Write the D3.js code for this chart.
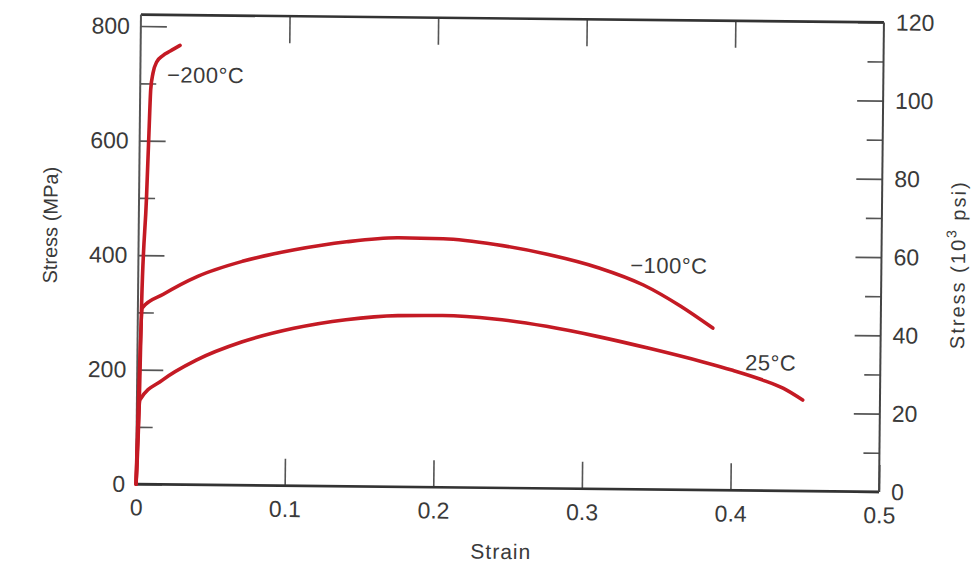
<!DOCTYPE html>
<html lang="en">

<head>
  <meta charset="UTF-8">
  <title>Stress vs Strain</title>
  <script src="https://d3js.org/d3.v7.min.js"></script>
  <style>
    body {
      margin: 0;
      background: #fff;
      font-family: "Liberation Sans", Arial, sans-serif;
    }

    .tick text {
      fill: #3a3a3a;
      font-size: 23px;
    }

    .tick line {
      stroke: #555;
      stroke-width: 1.6px;
    }

    .axis .domain {
      display: none;
    }

    .curve {
      fill: none;
      stroke: #c41a24;
      stroke-width: 3.6px;
      stroke-linecap: round;
    }

    .curve-label {
      fill: #3a3a3a;
      font-size: 22px;
      letter-spacing: 0.5px;
    }

    .axis-title {
      fill: #3a3a3a;
      font-size: 20px;
    }
  </style>
</head>

<body>
  <div id="chart"></div>

  <script>
    // strain / stress (MPa)
    const curveMinus200 = [
      [0, 0], [0.0016, 147], [0.0025, 320], [0.005, 500], [0.0062, 613],
      [0.0071, 690], [0.0085, 718], [0.011, 738], [0.015, 749], [0.02, 757], [0.0265, 767]
    ];
    const curveMinus100 = [
      [0, 0], [0.003, 308], [0.017, 332], [0.04, 364], [0.07, 391], [0.105, 412],
      [0.14, 427], [0.175, 435], [0.205, 434], [0.24, 425], [0.275, 409],
      [0.31, 386], [0.34, 357], [0.365, 321], [0.387, 283]
    ];
    const curve25 = [
      [0, 0], [0.002, 147], [0.017, 182], [0.04, 218], [0.07, 250], [0.105, 275],
      [0.14, 291], [0.175, 299], [0.205, 300], [0.24, 295], [0.275, 283],
      [0.31, 266], [0.345, 246], [0.38, 224], [0.40, 210], [0.42, 194], [0.435, 179], [0.448, 159]
    ];

    const curveLabels = ["\u2212200\u00B0C", "\u2212100\u00B0C", "25\u00B0C"];
    const labelSpots = [[0.018, 702], [0.331, 378], [0.409, 210]];

    const strainTicks = [0, 0.1, 0.2, 0.3, 0.4, 0.5];
    const mpaTicks = [0, 200, 400, 600, 800];
    const mpaMinor = [100, 300, 500, 700];
    const ksiTicks = [0, 20, 40, 60, 80, 100, 120];
    const ksiMinor = [10, 30, 50, 70, 90, 110];

    const width = 976;
    const height = 567;
    const plotLeft = 138.5, plotRight = 881.5, plotTop = 18.5, plotBottom = 488;

    const svg = d3.select("#chart")
      .append("svg")
      .attr("width", width)
      .attr("height", height);

    // the printed figure sits slightly skewed on the page
    const g = svg.append("g")
      .attr("transform", "rotate(0.6, 510, 253)");

    const x = d3.scaleLinear().domain([0, 0.5]).range([plotLeft, plotRight]);
    const yMpa = d3.scaleLinear().domain([0, 820]).range([plotBottom, plotTop]);
    const yKsi = d3.scaleLinear().domain([0, 120]).range([plotBottom, plotTop]);

    // axes with inward ticks
    g.append("g")
      .attr("class", "axis")
      .attr("transform", `translate(0, ${plotBottom})`)
      .call(d3.axisBottom(x).tickValues(strainTicks).tickSizeInner(-27).tickSizeOuter(0)
        .tickPadding(15).tickFormat(d => d === 0 ? "0" : d3.format(".1f")(d)));

    g.append("g")
      .attr("class", "axis")
      .attr("transform", `translate(0, ${plotTop})`)
      .call(d3.axisTop(x).tickValues(strainTicks.slice(1, -1)).tickSize(-27).tickFormat(""));

    g.append("g")
      .attr("class", "axis")
      .attr("transform", `translate(${plotLeft}, 0)`)
      .call(d3.axisLeft(yMpa).tickValues(mpaTicks).tickSizeInner(-26).tickSizeOuter(0).tickPadding(11));

    g.append("g")
      .attr("class", "axis")
      .attr("transform", `translate(${plotLeft}, 0)`)
      .call(d3.axisLeft(yMpa).tickValues(mpaMinor).tickSize(-16).tickFormat(""));

    g.append("g")
      .attr("class", "axis")
      .attr("transform", `translate(${plotRight}, 0)`)
      .call(d3.axisRight(yKsi).tickValues(ksiTicks).tickSizeInner(-26).tickSizeOuter(0).tickPadding(12));

    g.append("g")
      .attr("class", "axis")
      .attr("transform", `translate(${plotRight}, 0)`)
      .call(d3.axisRight(yKsi).tickValues(ksiMinor).tickSize(-16).tickFormat(""));

    // frame
    g.append("line").attr("x1", plotLeft).attr("x2", plotRight).attr("y1", plotTop).attr("y2", plotTop)
      .attr("stroke", "#333").attr("stroke-width", 2.6);
    g.append("line").attr("x1", plotLeft).attr("x2", plotRight).attr("y1", plotBottom).attr("y2", plotBottom)
      .attr("stroke", "#333").attr("stroke-width", 2.6);
    g.append("line").attr("x1", plotLeft).attr("x2", plotLeft).attr("y1", plotTop).attr("y2", plotBottom)
      .attr("stroke", "#555").attr("stroke-width", 2);
    g.append("line").attr("x1", plotRight).attr("x2", plotRight).attr("y1", plotTop).attr("y2", plotBottom)
      .attr("stroke", "#444").attr("stroke-width", 2);

    // curves
    const line = d3.line()
      .x(d => x(d[0]))
      .y(d => yMpa(d[1]))
      .curve(d3.curveMonotoneX);

    [curveMinus200, curveMinus100, curve25].forEach(c => {
      g.append("path")
        .attr("class", "curve")
        .attr("d", line(c));
    });

    g.selectAll(".curve-label")
      .data(curveLabels)
      .enter()
      .append("text")
      .attr("class", "curve-label")
      .attr("x", (d, i) => x(labelSpots[i][0]))
      .attr("y", (d, i) => yMpa(labelSpots[i][1]))
      .text(d => d);

    // axis titles
    g.append("text")
      .attr("class", "axis-title")
      .attr("text-anchor", "middle")
      .attr("x", 504)
      .attr("y", 559)
      .style("font-size", "21px")
      .style("letter-spacing", "1px")
      .text("Strain");

    g.append("text")
      .attr("class", "axis-title")
      .attr("text-anchor", "middle")
      .attr("transform", "translate(57, 230) rotate(-90)")
      .text("Stress (MPa)");

    const rt = g.append("text")
      .attr("class", "axis-title")
      .attr("text-anchor", "middle")
      .style("letter-spacing", "2px")
      .attr("transform", "translate(965, 260) rotate(-90)");
    rt.append("tspan").text("Stress (10");
    rt.append("tspan").attr("dy", -9).style("font-size", "14px").text("3");
    rt.append("tspan").attr("dy", 9).text(" psi)");
  </script>
</body>

</html>
